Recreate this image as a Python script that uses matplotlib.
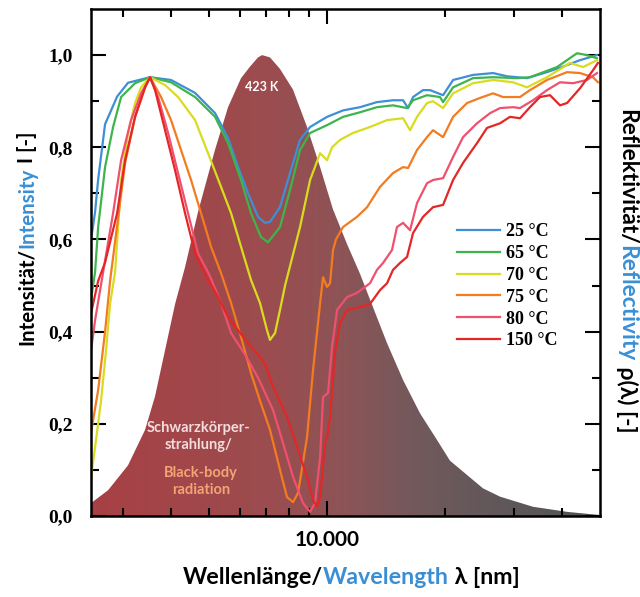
import numpy as np
import matplotlib
matplotlib.use("Agg")
import matplotlib.pyplot as plt
from matplotlib.colors import LinearSegmentedColormap
from matplotlib.image import AxesImage
from matplotlib.ticker import FixedLocator, FixedFormatter, NullFormatter

# ---- data (wavelength in nm) ----
# black body 423 K, normalised
bb_lam = [2491, 2754, 3097, 3424, 3632, 3852, 4086, 4333, 4678, 5171, 5582, 6026, 6353, 6660, 6820,
          7146, 7580, 8185, 8889, 9600, 10360, 11250, 12150, 13110, 14240, 15650, 17290, 19110, 20630,
          25060, 27700, 33640, 41110, 49920]
bb_val = [0.028, 0.056, 0.11, 0.187, 0.26, 0.36, 0.46, 0.54, 0.66, 0.795, 0.887, 0.95, 0.975, 0.995, 1.0,
          0.995, 0.97, 0.925, 0.844, 0.757, 0.665, 0.59, 0.525, 0.453, 0.375, 0.295, 0.223, 0.165, 0.12,
          0.06, 0.042, 0.02, 0.009, 0.002]

lam_25 = [2491, 2551, 2597, 2705, 2904, 3097, 3526, 3990, 4596, 5171, 5582, 5921, 6281, 6660, 6940,
          7146, 7580, 8040, 8530, 9050, 10000, 10990, 12150, 13420, 14750, 15650, 16120, 16600, 17600,
          18340, 19810, 21010, 23630, 26590, 28870, 32470, 36530, 40150, 44370, 49040]
r_25 = [0.60, 0.66, 0.73, 0.85, 0.91, 0.94, 0.952, 0.946, 0.918, 0.874, 0.82, 0.757, 0.70, 0.649, 0.636,
        0.638, 0.67, 0.744, 0.816, 0.844, 0.866, 0.88, 0.887, 0.898, 0.902, 0.902, 0.885, 0.909, 0.924,
        0.924, 0.913, 0.946, 0.957, 0.961, 0.954, 0.95, 0.963, 0.975, 0.989, 1.0]

lam_65 = [2491, 2551, 2597, 2705, 2836, 2973, 3228, 3526, 3990, 4596, 5171, 5582, 6026, 6391, 6779,
          7065, 7580, 8040, 8530, 9050, 10000, 10990, 12150, 13420, 14750, 16020, 16600, 18020, 19450,
          19810, 21010, 23630, 26590, 30620, 33050, 38740, 43600, 46240, 49040]
r_65 = [0.47, 0.53, 0.627, 0.757, 0.844, 0.909, 0.939, 0.952, 0.941, 0.909, 0.866, 0.809, 0.729, 0.657, 0.605,
        0.594, 0.627, 0.707, 0.794, 0.831, 0.848, 0.866, 0.876, 0.887, 0.891, 0.885, 0.902, 0.913, 0.909,
        0.898, 0.93, 0.95, 0.952, 0.95, 0.952, 0.974, 1.004, 1.0, 0.993]

lam_70 = [2491, 2551, 2642, 2721, 2786, 2870, 2921, 2973, 3097, 3228, 3344, 3526, 3852, 4158, 4596,
          4962, 5356, 5682, 6026, 6391, 6738, 7022, 7146, 7362, 7580, 7809, 8530, 9050, 9600, 10000,
          10300, 10800, 11650, 12880, 14240, 15650, 16310, 16990, 18020, 18670, 19810, 21010, 23630,
          26590, 29910, 32470, 36530, 41830, 45160, 49040]
r_70 = [0.085, 0.15, 0.25, 0.36, 0.46, 0.53, 0.627, 0.729, 0.83, 0.896, 0.93, 0.952, 0.935, 0.909, 0.859,
        0.787, 0.714, 0.657, 0.584, 0.512, 0.462, 0.403, 0.382, 0.397, 0.447, 0.5, 0.627, 0.729, 0.787, 0.772,
        0.80, 0.816, 0.831, 0.844, 0.859, 0.863, 0.837, 0.866, 0.896, 0.90, 0.885, 0.917, 0.939,
        0.946, 0.941, 0.93, 0.952, 0.983, 0.974, 0.989]

lam_75 = [2491, 2521, 2597, 2705, 2786, 2904, 3044, 3228, 3424, 3526, 3762, 3990, 4232, 4489, 4761,
          5050, 5356, 5682, 6026, 6391, 6738, 7146, 7580, 7901, 8185, 8430, 8889, 9210, 9600, 9767,
          10000, 10180, 10360, 10540, 10990, 11930, 12660, 13660, 14750, 15650, 16120, 16990, 18020,
          18670, 19810, 21010, 22810, 24620, 26590, 28190, 31160, 33050, 36530, 41110, 44370, 47890, 49330]
r_75 = [0.18, 0.208, 0.273, 0.40, 0.51, 0.63, 0.766, 0.866, 0.93, 0.952, 0.909, 0.859, 0.794, 0.729, 0.657,
        0.584, 0.527, 0.462, 0.388, 0.31, 0.25, 0.187, 0.10, 0.041, 0.03, 0.05, 0.171, 0.317, 0.462, 0.518,
        0.497, 0.505, 0.577, 0.6, 0.627, 0.649, 0.67, 0.714, 0.744, 0.757, 0.755, 0.794, 0.822,
        0.837, 0.822, 0.866, 0.896, 0.907, 0.917, 0.909, 0.909, 0.924, 0.946, 0.963, 0.961, 0.952, 0.941]

lam_80 = [2491, 2551, 2627, 2836, 2973, 3152, 3344, 3526, 3697, 3921, 4158, 4410, 4678, 5020, 5356,
          5682, 6170, 6660, 7276, 7718, 8185, 8682, 9050, 9317, 9600, 9767, 10060, 10300, 10610, 11250,
          11930, 12880, 13420, 13910, 14660, 15100, 15650, 16310, 16990, 18020, 18670, 19810, 21010,
          22280, 24190, 26120, 27700, 29910, 31160, 33640, 36530, 39440, 42580, 46240, 49040]
r_80 = [0.36, 0.425, 0.49, 0.657, 0.772, 0.859, 0.917, 0.952, 0.909, 0.831, 0.744, 0.657, 0.57, 0.52, 0.462,
        0.397, 0.35, 0.30, 0.23, 0.158, 0.085, 0.028, 0.009, 0.028, 0.128, 0.258, 0.267, 0.367, 0.447, 0.475,
        0.484, 0.505, 0.534, 0.549, 0.577, 0.627, 0.636, 0.62, 0.679, 0.722, 0.729, 0.733, 0.779,
        0.822, 0.852, 0.874, 0.885, 0.887, 0.885, 0.902, 0.924, 0.941, 0.939, 0.946, 0.961]

lam_150 = [2491, 2597, 2705, 2904, 3044, 3228, 3424, 3526, 3632, 3852, 4086, 4333, 4596, 4903, 5262,
           5582, 5921, 6391, 6738, 6940, 7276, 7901, 8381, 8889, 9210, 9428, 9600, 9883, 10000, 10180,
           10480, 10800, 11250, 12150, 12880, 13660, 14240, 14750, 15370, 16020, 16600, 17600, 18670,
           19810, 21010, 22280, 24190, 25660, 27700, 29380, 31160, 33050, 35060, 37190, 39440, 41110,
           44370, 47890, 49330]
r_150 = [0.44, 0.51, 0.55, 0.657, 0.772, 0.866, 0.93, 0.952, 0.924, 0.837, 0.75, 0.657, 0.57, 0.52, 0.475,
         0.432, 0.403, 0.367, 0.345, 0.33, 0.28, 0.215, 0.15, 0.085, 0.035, 0.02, 0.041, 0.158, 0.171, 0.215,
         0.354, 0.419, 0.447, 0.453, 0.46, 0.49, 0.505, 0.534, 0.549, 0.562, 0.614, 0.649, 0.67,
         0.675, 0.729, 0.766, 0.809, 0.842, 0.852, 0.866, 0.863, 0.887, 0.909, 0.913, 0.891, 0.896,
         0.928, 0.967, 0.983]

labels = ["25 °C", "65 °C", "70 °C", "75 °C", "80 °C", "150 °C"]
series = [(lam_25, r_25), (lam_65, r_65), (lam_70, r_70), (lam_75, r_75), (lam_80, r_80), (lam_150, r_150)]
colors = ["#3d8fd6", "#3db54a", "#d9dc1e", "#f37b20", "#f0506e", "#e32726"]

y_ticks = [0.0, 0.2, 0.4, 0.6, 0.8, 1.0]
y_ticklabels = ["0,0", "0,2", "0,4", "0,6", "0,8", "1,0"]

BLUE = "#3a8fd4"
SANS = ["Lato", "DejaVu Sans"]
SERIF = ["Liberation Serif", "DejaVu Serif"]

fig = plt.figure(figsize=(6.4, 5.97), dpi=100)
ax = fig.add_axes([91 / 640, 81 / 597, 509 / 640, 507 / 597])
ax.set_xscale("log")
ax.set_xlim(2490, 49920)
ax.set_ylim(0, 1.1)

# black body area with a red -> grey gradient
poly = ax.fill([bb_lam[0]] + bb_lam + [bb_lam[-1]], [0] + bb_val + [0],
               facecolor="none", edgecolor="none")[0]
cmap = LinearSegmentedColormap.from_list("bb", [
    (0.0, (0.66, 0.25, 0.27)), (0.35, (0.61, 0.30, 0.31)), (0.5, (0.55, 0.33, 0.34)),
    (0.65, (0.44, 0.35, 0.36)), (0.85, (0.36, 0.34, 0.35)), (1.0, (0.32, 0.32, 0.33))])
im = AxesImage(ax, cmap=cmap, extent=(0, 1, 0, 1), transform=ax.transAxes,
               interpolation="bilinear", zorder=1)
im.set_data(np.linspace(0, 1, 256).reshape(1, -1))
ax.add_image(im)
im.set_clip_path(poly)

for (lam, r), lab, c in zip(series, labels, colors):
    ax.plot(lam, r, color=c, lw=1.6, label=lab, zorder=3)

ax.text(6820, 0.93, "423 K", color="white", fontsize=9, fontweight="bold",
        family=SANS, ha="center", va="center", zorder=4)
ax.text(4700, 0.172, "Schwarzkörper-\nstrahlung/", color="#f3dcdc", fontsize=10.5,
        fontweight="bold", family=SANS, ha="center", va="center", linespacing=1.3, zorder=4)
ax.text(4760, 0.075, "Black-body\nradiation", color="#f2a474", fontsize=10.5,
        fontweight="bold", family=SANS, ha="center", va="center", linespacing=1.3, zorder=4)

# axes and ticks
for s in ax.spines.values():
    s.set_linewidth(1.8)
    s.set_zorder(5)
ax.yaxis.set_major_locator(FixedLocator(y_ticks))
ax.yaxis.set_major_formatter(FixedFormatter(y_ticklabels))
ax.yaxis.set_minor_locator(FixedLocator([0.1, 0.3, 0.5, 0.7, 0.9]))
ax.xaxis.set_major_locator(FixedLocator([10000]))
ax.xaxis.set_major_formatter(FixedFormatter(["10.000"]))
ax.xaxis.set_minor_locator(FixedLocator([3000, 4000, 5000, 6000, 7000, 8000, 9000, 20000, 30000, 40000]))
ax.xaxis.set_minor_formatter(NullFormatter())
ax.tick_params(which="both", direction="in", top=True, right=True, width=1.5)
ax.tick_params(which="major", length=11)
ax.tick_params(which="minor", length=6)
ax.tick_params(axis="y", pad=13)
ax.tick_params(axis="x", pad=10)
for t in ax.get_yticklabels():
    t.set_family(SERIF)
    t.set_fontweight("bold")
    t.set_fontsize(14)
for t in ax.get_xticklabels():
    t.set_family(SANS)
    t.set_fontweight("bold")
    t.set_fontsize(15)

leg = ax.legend(loc="upper left", bbox_to_anchor=(0.705, 0.592), frameon=False,
                handlelength=2.4, handletextpad=0.3, labelspacing=0.27, borderaxespad=0,
                prop={"family": SERIF, "weight": "bold", "size": 13})


def multicolor(x, y, parts, size, target_px, rotation=0, first_ha="left", first_va="center"):
    # axis label in several colours, scaled so that it spans target_px pixels
    kw = dict(fontsize=size, fontweight="bold", family=SANS)
    prev = fig.text(x, y, parts[0][0], color=parts[0][1], rotation=rotation,
                    ha=first_ha, va=first_va, **kw)
    pieces = [prev]
    for txt, col in parts[1:]:
        if rotation == 0:
            xy, ha, va = (1, 0), "left", "bottom"
        elif rotation == 90:
            xy, ha, va = (0, 1), "left", "bottom"
        else:
            xy, ha, va = (0, 0), "left", "top"
        prev = ax.annotate(txt, xy=xy, xycoords=prev, color=col, rotation=rotation,
                           ha=ha, va=va, annotation_clip=False, **kw)
        pieces.append(prev)
    fig.canvas.draw()
    r = fig.canvas.get_renderer()
    bbs = [p.get_window_extent(r) for p in pieces]
    if rotation == 0:
        length = max(b.x1 for b in bbs) - min(b.x0 for b in bbs)
    else:
        length = max(b.y1 for b in bbs) - min(b.y0 for b in bbs)
    for p in pieces:
        p.set_fontsize(size * target_px / length)


multicolor(183 / 640, 1 - 578 / 597,
           [("Wellenlänge/", "black"), ("Wavelength", BLUE), (" λ [nm]", "black")], 16.6, 334)
multicolor(27 / 640, 1 - 345 / 597,
           [("Intensität/", "black"), ("Intensity", BLUE), (" I [-]", "black")], 12.8, 215,
           rotation=90, first_ha="center", first_va="bottom")
multicolor(627 / 640, 1 - 109 / 597,
           [("Reflektivität/", "black"), ("Reflectivity", BLUE), (" ρ(λ) [-]", "black")], 14, 325,
           rotation=270, first_ha="center", first_va="top")

fig.savefig("out.png", dpi=100)
